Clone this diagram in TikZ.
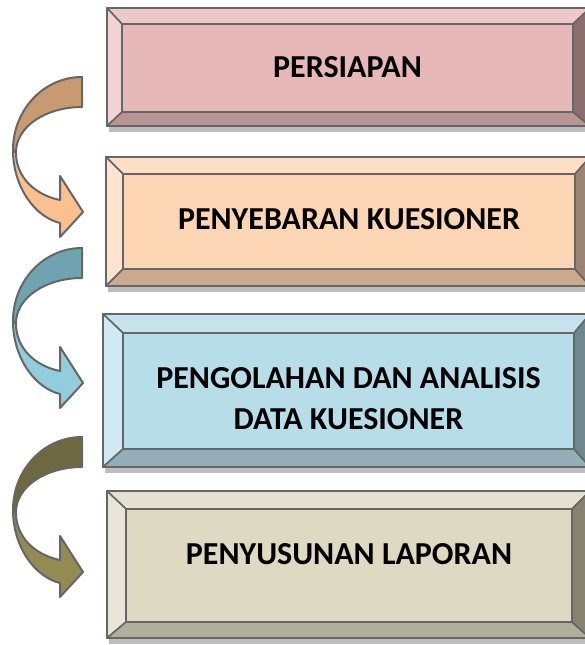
\documentclass[tikz,border=0pt]{standalone}
\usepackage{fontspec}
\setmainfont{Carlito}
\definecolor{edge}{HTML}{666666}
\definecolor{shadowc}{HTML}{BDBDBD}
\definecolor{aMid}{HTML}{E6B8B7}
\definecolor{aTop}{HTML}{EDCAC9}
\definecolor{aLeft}{HTML}{F0D4D3}
\definecolor{aBot}{HTML}{B89493}
\definecolor{aRight}{HTML}{8A6E6D}
\definecolor{bMid}{HTML}{FCD5B4}
\definecolor{bTop}{HTML}{FDDFC5}
\definecolor{bLeft}{HTML}{FDE4CF}
\definecolor{bBot}{HTML}{C9AA8F}
\definecolor{bRight}{HTML}{9B8572}
\definecolor{cMid}{HTML}{B7DDE8}
\definecolor{cTop}{HTML}{C6E3EC}
\definecolor{cLeft}{HTML}{D1E9F0}
\definecolor{cBot}{HTML}{93AEB6}
\definecolor{cRight}{HTML}{6F8890}
\definecolor{dMid}{HTML}{DDD9C3}
\definecolor{dTop}{HTML}{E4E1D1}
\definecolor{dLeft}{HTML}{E9E6D9}
\definecolor{dBot}{HTML}{B1AE9C}
\definecolor{dRight}{HTML}{858272}
\definecolor{arA}{HTML}{C89A72}
\definecolor{arAl}{HTML}{FAC08F}
\definecolor{arB}{HTML}{6FA3B0}
\definecolor{arBl}{HTML}{92CDDC}
\definecolor{arC}{HTML}{6E6840}
\definecolor{arCl}{HTML}{948A54}
\tikzset{
  bev/.style={draw=edge,line width=1.6pt,line join=round},
  lbl/.style={font=\fontsize{32}{41}\selectfont\bfseries,align=center,text=black,inner sep=0pt},
  arr/.style={draw=edge,line width=2pt,line join=round}
}
% #1 colour prefix, #2 x1, #3 y1, #4 y2, #5 xi1, #6 yi1, #7 xi2, #8 yi2
\newcommand\bevelbox[8]{%
  \fill[shadowc] (#2+2,#4) rectangle (590,#4+6);
  \filldraw[bev,fill=#1Top] (#2,#3) -- (590,#3) -- (#7,#6) -- (#5,#6) -- cycle;
  \filldraw[bev,fill=#1Left] (#2,#3) -- (#5,#6) -- (#5,#8) -- (#2,#4) -- cycle;
  \filldraw[bev,fill=#1Bot] (#2,#4) -- (#5,#8) -- (#7,#8) -- (590,#4) -- cycle;
  \filldraw[bev,fill=#1Right] (590,#3) -- (#7,#6) -- (#7,#8) -- (590,#4) -- cycle;
  \filldraw[bev,fill=#1Mid] (#5,#6) rectangle (#7,#8);
  \draw[bev] (#2,#3) rectangle (590,#4);
}
% #1 y0, #2 upper colour, #3 lower colour
\newcommand\curvarrow[3]{%
  \begin{scope}[shift={(0,#1)}]
    \filldraw[arr,fill=#2] (82,0) .. controls (43.9,0) and (13,32.7) .. (13,73)
      -- (16,75) .. controls (16,50) and (45.5,30) .. (82,30) -- cycle;
    \filldraw[arr,fill=#3] (13,73) .. controls (13,110) and (35,140) .. (60,146)
      -- (60,160) -- (83,135) -- (60,99) -- (60,123)
      .. controls (35,118) and (16,100) .. (16,76) -- cycle;
  \end{scope}
}
\begin{document}
\begin{tikzpicture}[x=1pt,y=-1pt]
\useasboundingbox (0,0) rectangle (584,645);
\fill[white] (0,0) rectangle (584,645);
\bevelbox{a}{107}{8}{126}{122}{24}{573}{112}
\bevelbox{b}{106}{157}{286}{123}{174}{575}{269}
\bevelbox{c}{103}{314}{467}{123}{333}{574}{449}
\bevelbox{d}{107}{491}{638}{126}{509}{572}{622}
\node[lbl] (t1) at ({(122+573)/2},{(24+112)/2-1}) {PERSIAPAN};
\node[lbl] (t2) at ({(123+575)/2},{(174+269)/2-2}) {PENYEBARAN KUESIONER};
\node[lbl] (t3) at ({(123+574)/2},{(333+449)/2+8}) {PENGOLAHAN DAN ANALISIS\\DATA KUESIONER};
\node[lbl] (t4) at ({(126+572)/2},{(509+622)/2-11}) {PENYUSUNAN LAPORAN};
\curvarrow{77}{arA}{arAl}
\curvarrow{248}{arB}{arBl}
\curvarrow{437}{arC}{arCl}
\end{tikzpicture}
\end{document}
